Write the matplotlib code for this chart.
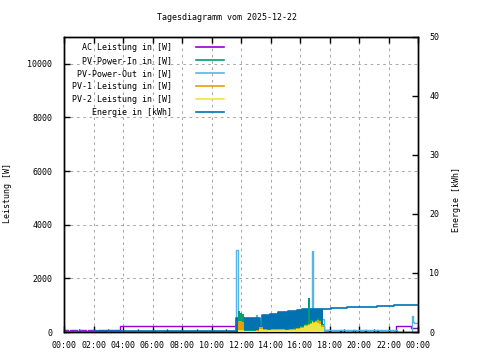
import matplotlib
matplotlib.use('Agg')
import matplotlib.pyplot as plt
from matplotlib.lines import Line2D
from matplotlib.ticker import MultipleLocator

plt.rcParams['font.family'] = ['DejaVu Sans Mono']
plt.rcParams['font.size'] = 6

#================= data (time in hours of the day) =================
title = 'Tagesdiagramm vom 2025-12-22'
xtick_hours = list(range(0, 25, 2))
xtick_labels = ['00:00', '02:00', '04:00', '06:00', '08:00', '10:00', '12:00',
                '14:00', '16:00', '18:00', '20:00', '22:00', '00:00']

# AC Leistung [W]
ac_t = [0.0, 0.3, 0.4, 0.9, 1.0, 1.5, 1.6, 2.2, 2.3, 2.9, 3.0, 3.8, 17.6, 17.95,
        18.7, 18.8, 19.6, 19.7, 20.4, 20.5, 21.2, 21.3, 22.52, 23.52, 24.0]
ac_v = [85, 0, 85, 0, 85, 0, 85, 0, 85, 0, 85, 213, 85, 0,
        85, 0, 85, 0, 85, 0, 85, 0, 213, 140, 140]

# PV-Power-Out [W]
out_t = [0.0, 3.8, 11.65, 11.80, 11.95, 12.18, 12.27, 13.00, 13.08, 13.29, 13.40,
         16.80, 16.88, 17.60, 22.60, 23.57, 23.65, 23.75, 24.0]
out_v = [50, 0, 3070, 420, 400, 0, 380, 620, 400, 0, 450,
         3030, 500, 60, 0, 600, 385, 350, 350]

# PV-Power-In, PV-1, PV-2 [W]
pv_t = [11.65, 11.80, 11.95, 12.10, 12.18, 12.50, 12.75, 13.00, 13.25, 13.50,
        13.75, 14.00, 14.25, 14.50, 14.75, 15.00, 15.25, 15.50, 15.75, 16.00,
        16.25, 16.55, 16.70, 16.80, 16.90, 17.00, 17.15, 17.30, 17.45, 17.60]
pv_in = [0, 800, 720, 660, 60, 70, 70, 80, 90, 120,
         110, 110, 120, 130, 120, 110, 130, 140, 160, 240,
         280, 1260, 440, 460, 420, 440, 520, 460, 300, 0]
pv_1 = [0, 420, 400, 360, 40, 50, 50, 60, 200, 100,
        90, 100, 110, 110, 100, 90, 110, 120, 140, 200,
        250, 300, 330, 400, 380, 420, 440, 400, 250, 0]
pv_2 = [0, 60, 60, 60, 30, 40, 40, 50, 100, 70,
        70, 80, 80, 80, 70, 60, 70, 80, 110, 160,
        210, 260, 300, 360, 340, 380, 320, 280, 180, 0]

# Energie [kWh]
energy_t = [0.0, 2.05, 11.66, 12.18, 12.27, 13.29, 13.40, 13.97, 14.53, 15.19,
            15.78, 16.11, 17.58, 18.10, 19.17, 21.24, 22.40, 24.0]
energy_v = [0.03, 0.12, 2.40, 0.0, 2.37, 0.0, 2.88, 3.05, 3.39, 3.56,
            3.73, 3.90, 3.90, 4.02, 4.19, 4.36, 4.58, 4.58]
# samples alternate in this window, so the curve looks filled
fill_start, fill_end = 11.66, 17.58

names = ['AC Leistung in [W]', 'PV-Power-In in [W]', 'PV-Power-Out in [W]',
         'PV-1 Leistung in [W]', 'PV-2 Leistung in [W]', 'Energie in [kWh]']
colors = ['#9400D3', '#009E73', '#56B4E9', '#E69F00', '#F0E442', '#0072B2']

#================= figure =================
fig = plt.figure(figsize=(4.8, 3.6), dpi=100)
ax = fig.add_axes([64/480, 28/360, 354/480, 295/360])
ax2 = ax.twinx()   # energy, right scale
ax3 = ax.twinx()   # PV fills drawn in front of the energy area

ax.set_xlim(0, 24)
ax.set_ylim(0, 11000)
ax2.set_ylim(0, 50)
ax3.set_ylim(0, 11000)
ax3.axis('off')

# back layer
ax.step(ac_t, ac_v, where='post', color=colors[0], lw=1.0)
ax.step(out_t, out_v, where='post', color=colors[2], lw=1.0)

# energy
i0 = energy_t.index(fill_start)
i1 = energy_t.index(fill_end)
ax2.fill_between(energy_t[i0:i1 + 1], energy_v[i0:i1 + 1], step='post',
                 color=colors[5], lw=0)
ax2.step(energy_t, energy_v, where='post', color=colors[5], lw=1.2)

# front layer
ax3.fill_between(pv_t, pv_in, step='post', color=colors[1], lw=0)
ax3.fill_between(pv_t, pv_1, step='post', color=colors[3], lw=0)
ax3.fill_between(pv_t, pv_2, step='post', color=colors[4], lw=0)

# grid
ax.set_xticks(xtick_hours)
ax.set_xticklabels(xtick_labels)
ax.xaxis.set_minor_locator(MultipleLocator(1))
ax.set_yticks(range(0, 11000, 2000))
ax2.set_yticks(range(0, 51, 10))
ax.grid(True, color='#a8a8a8', lw=0.75, linestyle=(0, (2.5, 3.5)))

ax.tick_params(axis='x', which='major', direction='in', length=4, width=1,
               top=True, pad=6.5, colors='black')
ax.tick_params(axis='x', which='minor', direction='in', length=2.2, width=1)
ax.tick_params(axis='y', direction='in', length=4, width=1, pad=8.5, right=False)
ax2.tick_params(axis='y', direction='in', length=4, width=1, pad=8)
for a in (ax, ax2):
    for s in a.spines.values():
        s.set_linewidth(1.0)
        s.set_color('black')

ax.set_ylabel('Leistung [W]')
ax.yaxis.set_label_coords(-0.147, 0.47)
ax2.set_ylabel('Energie [kWh]')
ax2.yaxis.set_label_coords(1.095, 0.45)

fig.text(227/480, 1 - 17.5/360, title, ha='center', va='center')

# legend (right aligned text, sample line on the right)
for k, (name, col) in enumerate(zip(names, colors)):
    y = 1 - (47.3 + 13 * k) / 360
    fig.text(172/480, y, name, ha='right', va='center')
    fig.add_artist(Line2D([196/480, 224/480], [y, y], color=col, lw=1.2,
                          transform=fig.transFigure))

fig.savefig('out.png', dpi=100)
